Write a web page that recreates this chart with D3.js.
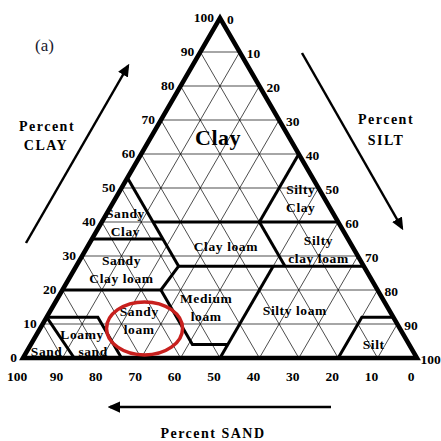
<!DOCTYPE html>
<html>
    <head>
        <title>Soil texture triangle</title>
        <style>
            body { margin: 0; background: #fff; }
            text { font-family: "Liberation Serif", "Times New Roman", serif; fill: #000; }
            .tick { font-size: 13.5px; font-weight: bold; }
            .cls { font-size: 13.5px; font-weight: bold; letter-spacing: 0.6px; }
            .axisTitle { font-size: 14px; font-weight: bold; letter-spacing: 1.5px; }
        </style>
        <script src="https://cdnjs.cloudflare.com/ajax/libs/d3/7.8.5/d3.min.js"></script>
    </head>
    <body>
        <div id="chart"></div>
        <script>
            // tick values on the three sides (percent)
            const tickValues = [0, 10, 20, 30, 40, 50, 60, 70, 80, 90, 100];
            const gridValues = [10, 20, 30, 40, 50, 60, 70, 80, 90];

            // class boundaries as [sand, clay] pairs
            const boundaries = [
                [[47, 53], [47, 27]],
                [[65, 35], [47, 35]],
                [[47, 40], [0, 40]],
                [[0, 60], [20, 40]],
                [[20, 40], [20, 27]],
                [[47, 27], [0, 27]],
                [[47, 27], [55, 20]],
                [[80, 20], [55, 20]],
                [[55, 20], [55, 4], [46, 4]],
                [[50, 0], [23, 27]],
                [[20, 0], [8, 12], [0, 12]],
                [[88, 12], [75, 12], [75, 0]],
                [[88, 12], [87, 0]]
            ];

            // class names with [sand, clay] of their label centre
            const classNames = [
                ["Clay"], ["Sandy", "Clay"], ["Clay loam"], ["Silty", "Clay"],
                ["Silty", "clay loam"], ["Sandy", "Clay loam"], ["Medium", "loam"],
                ["Sandy", "loam"], ["Loamy"], ["sand"], ["Sand"], ["Silty loam"], ["Silt"]
            ];
            const classSand = [18, 54, 32, 6, 9, 62, 46, 65, 81.5, 81.2, 93, 24, 9];
            const classClay = [65, 40, 33, 47, 32, 26, 15, 11, 7, 2, 2, 14, 4];

            // highlighted class (sandy loam) : [sand, clay]
            const highlight = [64.8, 8.7];

            const w = 441, h = 441;
            const svg = d3.select("#chart").append("svg")
                .attr("width", w)
                .attr("height", h);

            // horizontal position = silt + clay / 2, vertical = clay
            const xScale = d3.scaleLinear().domain([0, 100]).range([23, 417]);
            const yScale = d3.scaleLinear().domain([0, 100]).range([358, 18]);
            const pt = (sand, clay) => [xScale(100 - sand - clay + clay / 2), yScale(clay)];
            const line = d3.line().x(d => pt(d[0], d[1])[0]).y(d => pt(d[0], d[1])[1]);

            const defs = svg.append("defs");
            defs.append("marker")
                .attr("id", "head")
                .attr("viewBox", "0 0 10 10")
                .attr("refX", 8).attr("refY", 5)
                .attr("markerWidth", 5).attr("markerHeight", 4.5)
                .attr("markerUnits", "strokeWidth")
                .attr("orient", "auto")
                .attr("preserveAspectRatio", "none")
                .append("path")
                .attr("d", "M0,0 L10,5 L0,10 Z")
                .attr("fill", "#000");

            // thin grid
            const grid = svg.append("g").attr("stroke", "#000").attr("stroke-width", 0.7);
            gridValues.forEach(v => {
                grid.append("path").attr("d", line([[100 - v, v], [0, v]]));
                grid.append("path").attr("d", line([[v, 0], [v, 100 - v]]));
                grid.append("path").attr("d", line([[100 - v, 0], [0, 100 - v]]));
            });

            // class boundaries
            svg.append("g")
                .selectAll("path")
                .data(boundaries)
                .enter()
                .append("path")
                .attr("d", d => line(d))
                .attr("fill", "none")
                .attr("stroke", "#000")
                .attr("stroke-width", 3)
                .attr("stroke-linejoin", "miter");

            // outline
            svg.append("path")
                .attr("d", line([[100, 0], [0, 100], [0, 0]]) + "Z")
                .attr("fill", "none")
                .attr("stroke", "#000")
                .attr("stroke-width", 4.5);

            // class labels
            classNames.forEach((lines, i) => {
                const p = pt(classSand[i], classClay[i]);
                const t = svg.append("text")
                    .attr("class", "cls")
                    .attr("text-anchor", "middle")
                    .style("font-size", i === 0 ? "22px" : null)
                    .style("letter-spacing", i === 0 ? "0.5px" : null);
                lines.forEach((s, j) => {
                    t.append("tspan")
                        .attr("x", p[0])
                        .attr("y", p[1] + (j - (lines.length - 1) / 2) * 18)
                        .attr("dy", "0.35em")
                        .text(s);
                });
            });

            // tick labels: clay on left side, silt on right side, sand on base
            svg.append("g").selectAll("text")
                .data(tickValues).enter().append("text")
                .attr("class", "tick")
                .attr("text-anchor", "end")
                .attr("x", d => pt(100 - d, d)[0] - 6)
                .attr("y", d => pt(100 - d, d)[1] - 1)
                .attr("dy", "0.35em")
                .text(d => d);

            svg.append("g").selectAll("text")
                .data(tickValues).enter().append("text")
                .attr("class", "tick")
                .attr("text-anchor", "start")
                .attr("x", d => pt(0, 100 - d)[0] + (d === 100 ? 3.5 : 7))
                .attr("y", d => pt(0, 100 - d)[1] + 1)
                .attr("dy", "0.35em")
                .text(d => d);

            svg.append("g").selectAll("text")
                .data(tickValues).enter().append("text")
                .attr("class", "tick")
                .attr("text-anchor", "middle")
                .attr("x", d => pt(d, 0)[0] - 6)
                .attr("y", d => pt(d, 0)[1] + 18)
                .attr("dy", "0.35em")
                .text(d => d);

            // red ellipse around sandy loam
            const hc = pt(highlight[0], highlight[1]);
            svg.append("ellipse")
                .attr("cx", hc[0]).attr("cy", hc[1])
                .attr("rx", 38).attr("ry", 26.5)
                .attr("fill", "none")
                .attr("stroke", "#c8201e")
                .attr("stroke-width", 3.5);

            // direction arrows
            const arrows = [[26, 243, 128, 66], [302, 53, 402, 228], [331, 407, 110, 407]];
            svg.append("g").selectAll("line")
                .data(arrows).enter().append("line")
                .attr("x1", d => d[0]).attr("y1", d => d[1])
                .attr("x2", d => d[2]).attr("y2", d => d[3])
                .attr("stroke", "#000")
                .attr("stroke-width", 2.5)
                .attr("marker-end", "url(#head)");

            const titles = [["Percent", 47, 126], ["CLAY", 46, 145], ["Percent", 386, 119],
                            ["SILT", 386, 140], ["Percent SAND", 213, 433]];
            svg.append("g").selectAll("text")
                .data(titles).enter().append("text")
                .attr("class", "axisTitle")
                .attr("text-anchor", "middle")
                .attr("x", d => d[1]).attr("y", d => d[2])
                .attr("dy", "0.35em")
                .text(d => d[0]);

            svg.append("text")
                .attr("x", 35).attr("y", 45)
                .attr("dy", "0.35em")
                .style("font-size", "17px")
                .style("fill", "#1a1a2e")
                .text("(a)");
        </script>
    </body>
</html>
